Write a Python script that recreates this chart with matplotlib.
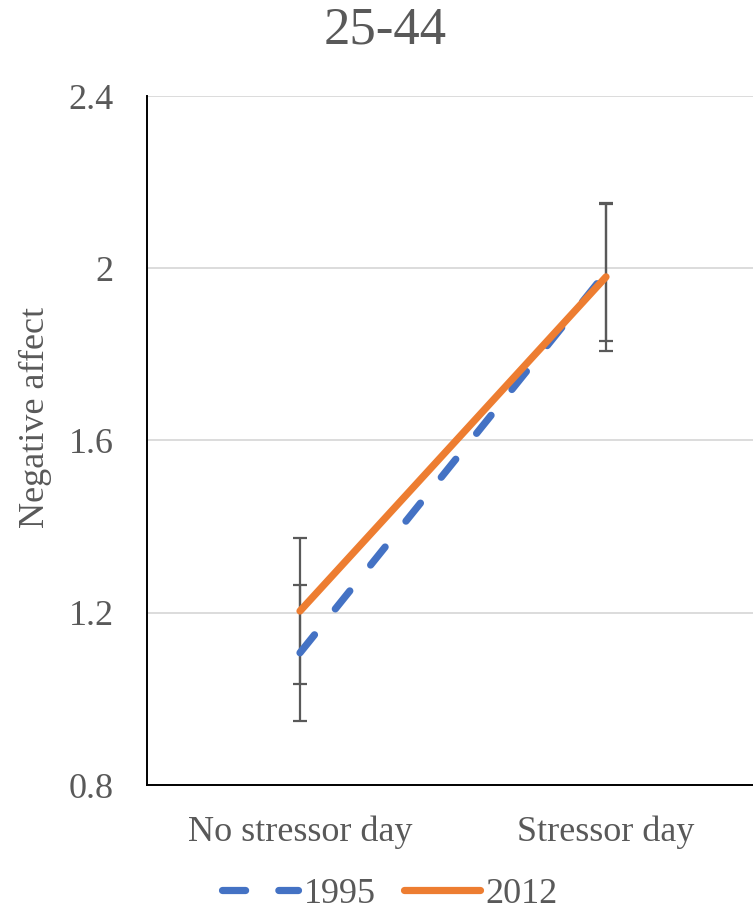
import matplotlib
matplotlib.use("Agg")
import matplotlib.pyplot as plt
from matplotlib.lines import Line2D

categories = ["No stressor day", "Stressor day"]
series_names = ["1995", "2012"]
values_1995 = [1.107, 1.99]
errors_1995 = [0.158, 0.16]
values_2012 = [1.204, 1.98]
errors_2012 = [0.17, 0.172]
yticks = [0.8, 1.2, 1.6, 2.0, 2.4]
ytick_labels = ["0.8", "1.2", "1.6", "2", "2.4"]
title = "25-44"
ylabel = "Negative affect"

BLUE = "#4472C4"
ORANGE = "#ED7D31"
GREY = "#595959"
FONT = "Liberation Serif"

plt.rcParams["font.family"] = [FONT, "DejaVu Serif"]

W, H = 753, 913
fig = plt.figure(figsize=(W / 100, H / 100), dpi=100)
ax = fig.add_axes([147 / W, 1 - 785 / H, 612 / W, (785 - 96) / H])

x = list(range(len(categories)))

ax.errorbar(x, values_1995, yerr=errors_1995, fmt="none", ecolor=GREY,
            elinewidth=1.6, capsize=4.8, capthick=1.6, zorder=2)
ax.errorbar(x, values_2012, yerr=errors_2012, fmt="none", ecolor=GREY,
            elinewidth=1.6, capsize=4.8, capthick=1.6, zorder=2)

l1, = ax.plot(x, values_1995, color=BLUE, lw=5.2, dashes=(3.2, 4.6),
              dash_capstyle="round", solid_capstyle="round", zorder=3,
              label=series_names[0])
l2, = ax.plot(x, values_2012, color=ORANGE, lw=5.2, solid_capstyle="round",
              zorder=4, label=series_names[1])

ax.set_xlim(-0.5, 1.5)
ax.set_ylim(0.8, 2.4)
ax.set_yticks(yticks)
ax.set_yticklabels(ytick_labels)
ax.set_xticks(x)
ax.set_xticklabels(categories)
ax.tick_params(axis="both", length=0, labelsize=26, colors=GREY)
ax.tick_params(axis="y", pad=24)
ax.tick_params(axis="x", pad=22)

ax.grid(axis="y", color="#D9D9D9", lw=1.3, zorder=0)
ax.set_axisbelow(True)
for s in ["top", "right"]:
    ax.spines[s].set_visible(False)
for s in ["left", "bottom"]:
    ax.spines[s].set_color("black")
    ax.spines[s].set_linewidth(1.4)
    ax.spines[s].set_zorder(1)

fig.text(385 / W, 1 - 31 / H, title, ha="center", va="center",
         fontsize=38, color=GREY)
fig.text(35 / W, 1 - 417 / H, ylabel, ha="center", va="center",
         rotation=90, fontsize=26, color=GREY)

leg = fig.legend(handles=[l1, l2], loc="center", bbox_to_anchor=(390 / W, 1 - 894 / H),
                 ncol=2, frameon=False, fontsize=26, handlelength=2.1,
                 handletextpad=0.15, columnspacing=0.8, borderpad=0)
for t in leg.get_texts():
    t.set_color(GREY)

fig.savefig("out.png", dpi=100)
